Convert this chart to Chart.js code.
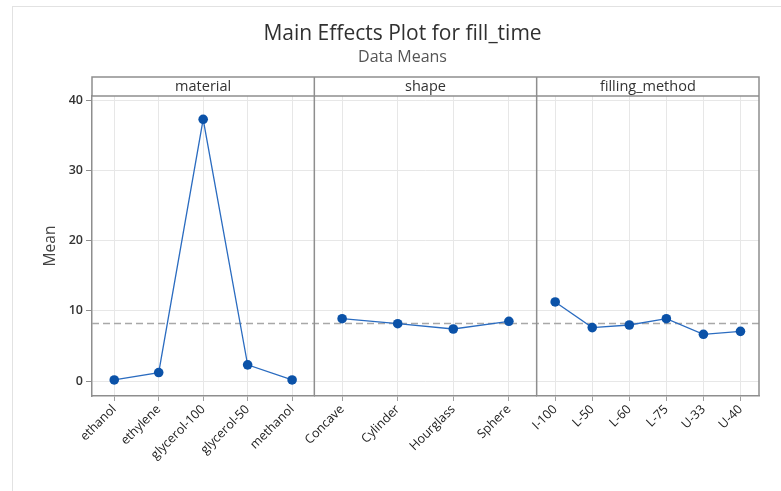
<!DOCTYPE html>
<html>
<head>
<meta charset="utf-8">
<script src="https://cdn.jsdelivr.net/npm/chart.js@4/dist/chart.umd.min.js"></script>
<style>
  html, body { margin: 0; padding: 0; background: #ffffff; }
  #wrap { position: relative; width: 781px; height: 491px; overflow: hidden; }
  #frame { position: absolute; left: 12px; top: 6px; right: -4px; bottom: -4px;
           border-top: 1px solid #e2e2e2; border-left: 1px solid #e2e2e2; }
  canvas { position: absolute; left: 0; top: 0; }
</style>
</head>
<body>
<div id="wrap">
  <div id="frame"></div>
  <canvas id="c" width="781" height="491"></canvas>
</div>
<script>
// Factor levels for each panel
const materialLevels = ['ethanol', 'ethylene', 'glycerol-100', 'glycerol-50', 'methanol'];
const shapeLevels = ['Concave', 'Cylinder', 'Hourglass', 'Sphere'];
const fillingLevels = ['I-100', 'L-50', 'L-60', 'L-75', 'U-33', 'U-40'];

// Mean fill_time at each level
const materialMeans = [0.15, 1.2, 37.25, 2.3, 0.15];
const shapeMeans = [8.87, 8.16, 7.4, 8.5];
const fillingMeans = [11.25, 7.6, 7.97, 8.87, 6.65, 7.07];

// Overall mean (reference line)
const grandMean = 8.2;

const panelTitles = ['material', 'shape', 'filling_method'];
const yTickValues = [0, 10, 20, 30, 40];

const FONT = '"Open Sans", "Noto Sans", sans-serif';
const BORDER = '#8e8e8e';
const GRID = '#e7e7e7';

// Panel strips, dividers, outer border and the mean reference line
const panelFrame = {
  id: 'panelFrame',
  beforeDatasetsDraw(chart) {
    const {ctx, chartArea, scales} = chart;
    const y = scales.y.getPixelForValue(grandMean);
    ctx.save();
    ctx.strokeStyle = '#a8a8a8';
    ctx.lineWidth = 1.5;
    ctx.setLineDash([7, 4]);
    ctx.beginPath();
    ctx.moveTo(chartArea.left, y);
    ctx.lineTo(chartArea.right, y);
    ctx.stroke();
    ctx.restore();
  },
  afterDraw(chart) {
    const {ctx, chartArea, scales} = chart;
    const stripH = 19;
    const top = chartArea.top - stripH;
    const axes = [scales.x0, scales.x1, scales.x2];
    ctx.save();
    ctx.strokeStyle = BORDER;
    ctx.lineWidth = 1.5;
    // strip outline
    ctx.beginPath();
    ctx.moveTo(chartArea.left, chartArea.top);
    ctx.lineTo(chartArea.left, top);
    ctx.lineTo(chartArea.right, top);
    ctx.lineTo(chartArea.right, chartArea.bottom);
    ctx.moveTo(chartArea.left, chartArea.top);
    ctx.lineTo(chartArea.right, chartArea.top);
    // panel dividers
    for (let i = 1; i < axes.length; i++) {
      const x = axes[i].left;
      ctx.moveTo(x, top);
      ctx.lineTo(x, chartArea.bottom);
    }
    ctx.stroke();
    // strip labels
    ctx.fillStyle = '#333333';
    ctx.font = '14.5px ' + FONT;
    ctx.textAlign = 'center';
    ctx.textBaseline = 'middle';
    axes.forEach((ax, i) => {
      ctx.fillText(panelTitles[i], (ax.left + ax.right) / 2, top + stripH / 2 + 0.5);
    });
    ctx.restore();
  }
};

function xAxis(labels) {
  return {
    type: 'category',
    axis: 'x',
    position: 'bottom',
    stack: 'panels',
    stackWeight: 1,
    labels: labels,
    offset: true,
    grid: { color: GRID, lineWidth: 1, drawTicks: true, tickLength: 5, tickColor: '#a0a0a0', offset: false },
    border: { display: true, color: BORDER, width: 1.5 },
    ticks: {
      autoSkip: false, minRotation: 45, maxRotation: 45, padding: 1,
      color: '#222222', font: { family: FONT, size: 12.5 }
    },
    afterFit(scale) { scale.height = 95; }
  };
}

function series(values, axisId) {
  return {
    data: values,
    xAxisID: axisId,
    yAxisID: 'y',
    borderColor: '#2b6cc0',
    borderWidth: 1.3,
    tension: 0,
    pointRadius: 4.8,
    pointHoverRadius: 4.8,
    pointBackgroundColor: '#0b52a8',
    pointBorderColor: '#0b52a8',
    pointBorderWidth: 0,
    fill: false
  };
}

new Chart(document.getElementById('c'), {
  type: 'line',
  data: {
    datasets: [
      series(materialMeans, 'x0'),
      series(shapeMeans, 'x1'),
      series(fillingMeans, 'x2')
    ]
  },
  options: {
    responsive: false,
    animation: false,
    events: [],
    layout: { padding: { left: 46, right: 22, top: 10, bottom: 0 } },
    plugins: {
      legend: { display: false },
      tooltip: { enabled: false },
      title: {
        display: true,
        text: 'Main Effects Plot for fill_time',
        color: '#303030',
        font: { family: FONT, size: 21, weight: 'normal', lineHeight: 1.2 },
        padding: { top: 11.4, bottom: 0 }
      },
      subtitle: {
        display: true,
        text: 'Data Means',
        color: '#555555',
        font: { family: FONT, size: 16, weight: 'normal', lineHeight: 1.2 },
        padding: { top: 1.2, bottom: 29.0 }
      }
    },
    scales: {
      x0: xAxis(materialLevels),
      x1: xAxis(shapeLevels),
      x2: xAxis(fillingLevels),
      y: {
        type: 'linear',
        position: 'left',
        min: -2.135,
        max: 40.57,
        afterBuildTicks(scale) { scale.ticks = yTickValues.map(v => ({ value: v })); },
        afterFit(scale) { scale.width = 46; },
        grid: { color: GRID, lineWidth: 1, drawTicks: true, tickLength: 6, tickColor: '#8e8e8e' },
        border: { display: true, color: BORDER, width: 1.5 },
        ticks: { padding: 3, color: '#333333', font: { family: FONT, size: 12.5, weight: '600' } },
        title: {
          display: true,
          text: 'Mean',
          color: '#444444',
          font: { family: FONT, size: 15.5, lineHeight: 1.2 },
          padding: { top: -5, bottom: 0 }
        }
      }
    }
  },
  plugins: [panelFrame]
});
</script>
</body>
</html>
